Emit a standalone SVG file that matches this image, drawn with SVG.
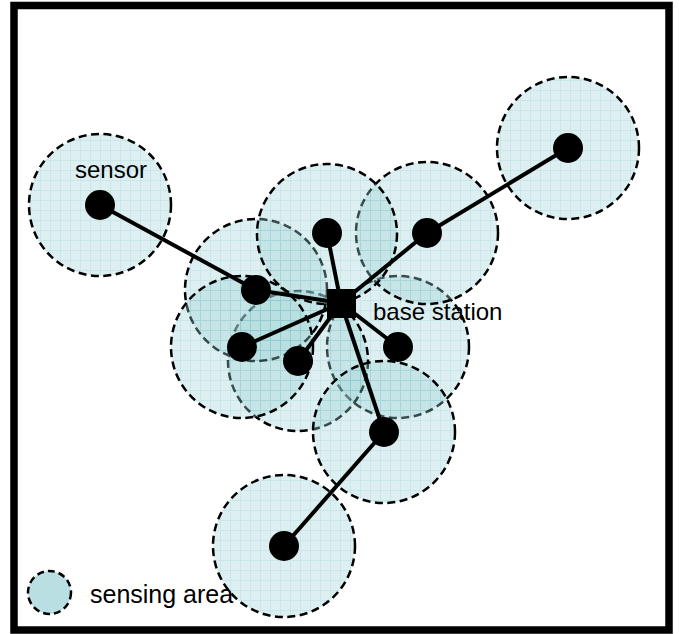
<svg xmlns="http://www.w3.org/2000/svg" width="680" height="634" viewBox="0 0 680 634">
<style>
.area{fill:url(#grid);fill-opacity:0.36;stroke:#000;stroke-width:2.5;stroke-dasharray:8 4.5}
.link{stroke:#000;stroke-width:4;fill:none}
.dot{fill:#000}
.lbl{font-family:"Liberation Sans",Arial,sans-serif;font-size:24px;fill:#000}
</style>
<defs>
<pattern id="grid" patternUnits="userSpaceOnUse" width="10" height="10">
<rect width="10" height="10" fill="#A0D3D6"/>
<path d="M0 0.5H10M0.5 0V10" stroke="#68BAC0" stroke-width="1"/>
</pattern>
</defs>
<rect x="0" y="0" width="680" height="634" fill="#fff"/>
<rect x="14" y="5.5" width="655" height="624.5" fill="#fff" stroke="#000" stroke-width="7.5"/>
<g id="sensing-areas">
<circle id="area-1" class="area" cx="100" cy="205" r="71"/>
<circle id="area-2" class="area" cx="568" cy="148" r="71"/>
<circle id="area-8" class="area" cx="398" cy="347" r="71"/>
<circle id="area-3" class="area" cx="427" cy="233" r="71"/>
<circle id="area-7" class="area" cx="298" cy="361" r="70"/>
<circle id="area-9" class="area" cx="384" cy="432" r="71"/>
<circle id="area-5" class="area" cx="256" cy="290" r="71"/>
<circle id="area-4" class="area" cx="327" cy="234" r="70"/>
<circle id="area-6" class="area" cx="242" cy="347" r="71"/>
<circle id="area-10" class="area" cx="284" cy="546" r="71"/>
</g>
<g id="connectors">
<line class="link" x1="100" y1="205" x2="256" y2="290"/>
<line class="link" x1="256" y1="290" x2="341" y2="303"/>
<line class="link" x1="568" y1="148" x2="427" y2="233"/>
<line class="link" x1="427" y1="233" x2="341" y2="303"/>
<line class="link" x1="327" y1="233" x2="341" y2="303"/>
<line class="link" x1="242" y1="347" x2="341" y2="303"/>
<line class="link" x1="298" y1="361" x2="341" y2="303"/>
<line class="link" x1="398" y1="347" x2="341" y2="303"/>
<line class="link" x1="384" y1="432" x2="341" y2="303"/>
<line class="link" x1="284" y1="546" x2="384" y2="432"/>
</g>
<g id="sensor-1"><circle class="dot" cx="100" cy="205" r="15"/></g>
<g id="sensor-2"><circle class="dot" cx="568" cy="148" r="15"/></g>
<g id="sensor-3"><circle class="dot" cx="427" cy="233" r="15"/></g>
<g id="sensor-4"><circle class="dot" cx="327" cy="233" r="15"/></g>
<g id="sensor-5"><circle class="dot" cx="256" cy="290" r="15"/></g>
<g id="sensor-6"><circle class="dot" cx="242" cy="347" r="15"/></g>
<g id="sensor-7"><circle class="dot" cx="298" cy="361" r="15"/></g>
<g id="sensor-8"><circle class="dot" cx="398" cy="347" r="15"/></g>
<g id="sensor-9"><circle class="dot" cx="384" cy="432" r="15"/></g>
<g id="sensor-10"><circle class="dot" cx="284" cy="546" r="15"/></g>
<g id="base-station"><rect x="327" y="289" width="29" height="29" fill="#000"/></g>
<g id="labels">
<text class="lbl" x="75" y="178">sensor</text>
<text class="lbl" x="373" y="320">base station</text>
</g>
<g id="legend">
<circle cx="49.5" cy="592.5" r="21.5" fill="#B9DFE2" stroke="#000" stroke-width="2.5" stroke-dasharray="7 4"/>
<text class="lbl" x="90" y="603" style="font-size:25px">sensing area</text>
</g>
</svg>
